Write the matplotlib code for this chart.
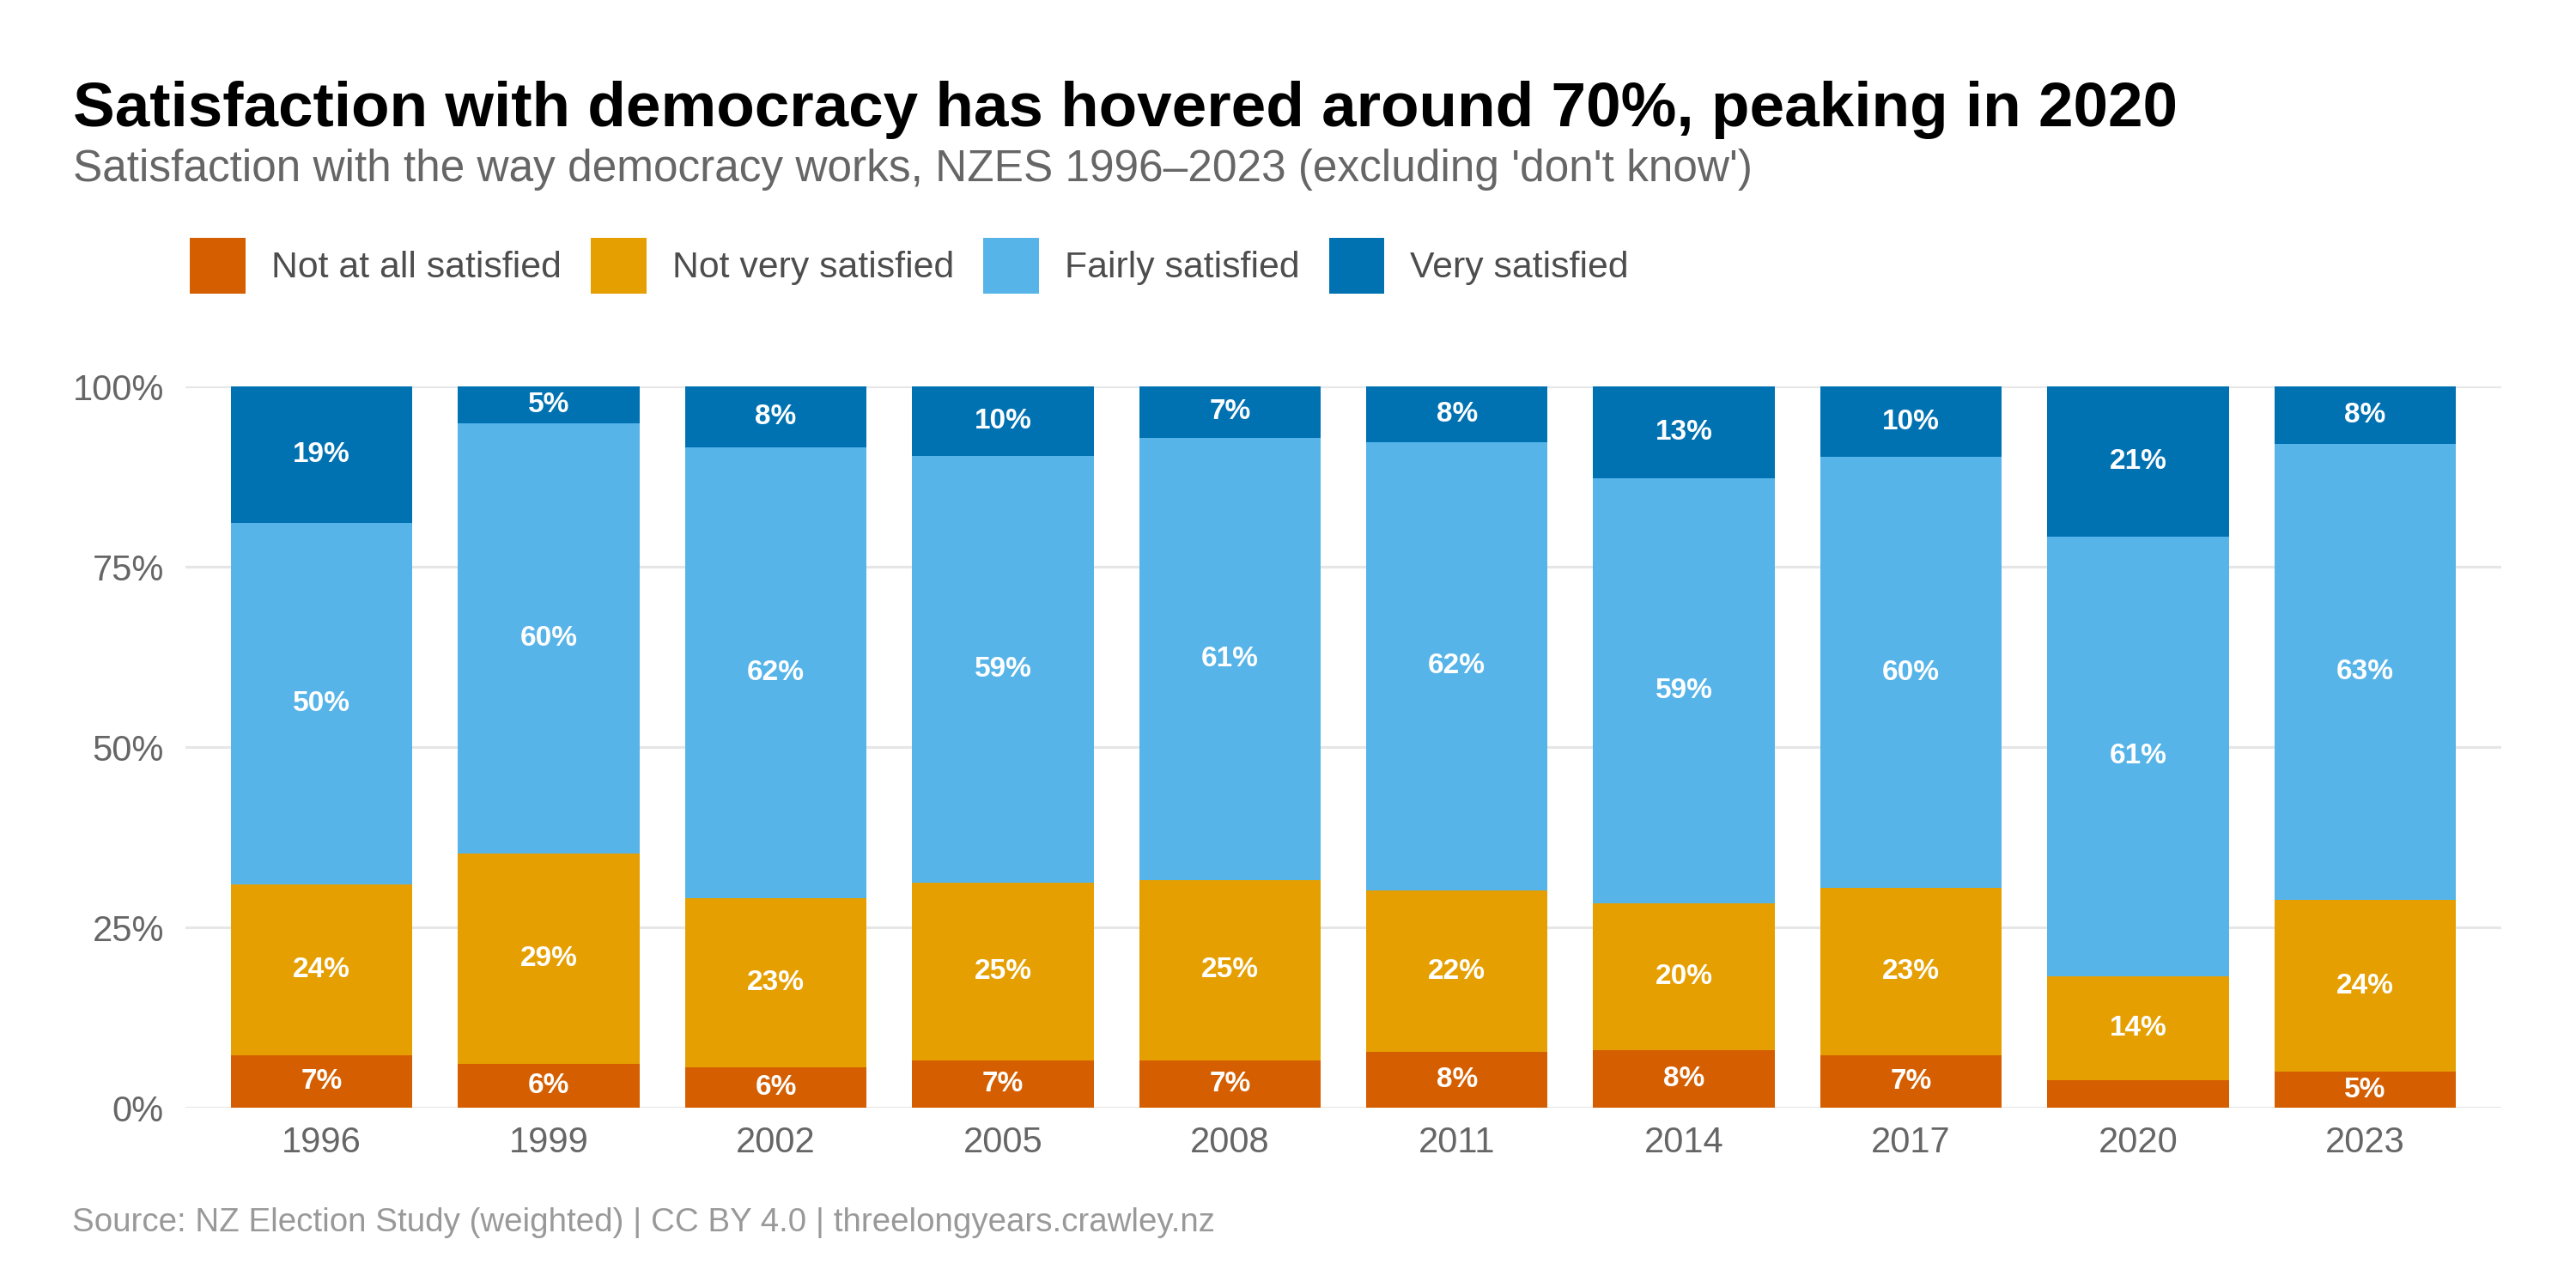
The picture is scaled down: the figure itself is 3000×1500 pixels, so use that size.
import matplotlib
matplotlib.use("Agg")
import matplotlib.pyplot as plt
from matplotlib.patches import Patch
import numpy as np

plt.rcParams['font.family'] = ['Liberation Sans', 'DejaVu Sans']

years = ['1996', '1999', '2002', '2005', '2008', '2011', '2014', '2017', '2020', '2023']
categories = ['Not at all satisfied', 'Not very satisfied', 'Fairly satisfied', 'Very satisfied']
colors = ['#D55E00', '#E69F00', '#56B4E9', '#0072B2']

# percent of respondents
not_at_all = [7.3, 6.1, 5.65, 6.6, 6.6, 7.7, 8.0, 7.3, 3.8, 5.0]
not_very = [23.7, 29.1, 23.45, 24.6, 24.9, 22.4, 20.3, 23.2, 14.4, 23.8]
fairly = [50.1, 59.7, 62.45, 59.2, 61.4, 62.2, 59.0, 59.7, 61.0, 63.2]
very = [18.9, 5.1, 8.45, 9.6, 7.1, 7.7, 12.7, 9.8, 20.8, 8.0]

series = [not_at_all, not_very, fairly, very]

fig = plt.figure(figsize=(20, 10), dpi=150)
ax = fig.add_axes([0.072, 0.14, 0.899, 0.56])

x = np.arange(len(years))
bottom = np.zeros(len(years))
for vals, col in zip(series, colors):
    v = np.array(vals) / 100
    ax.bar(x, v, bottom=bottom, width=0.8, color=col, zorder=2)
    for xi, b, h, raw in zip(x, bottom, v, vals):
        if raw >= 4.5:
            ax.text(xi, b + h / 2, f"{raw:.0f}%", ha='center', va='center',
                    color='white', fontsize=16, fontweight='bold', zorder=3)
    bottom += v

ax.set_xlim(-0.6, len(years) - 0.4)
ax.set_ylim(0, 1)
ax.set_xticks(x)
ax.set_xticklabels(years)
ax.set_yticks([0, 0.25, 0.5, 0.75, 1.0])
ax.set_yticklabels(['0%', '25%', '50%', '75%', '100%'])
ax.tick_params(axis='both', length=0, labelsize=20, labelcolor='#666666')
ax.tick_params(axis='y', pad=12)
ax.tick_params(axis='x', pad=10)
ax.grid(axis='y', color='#e6e6e6', linewidth=1.5, zorder=0)
ax.set_axisbelow(True)
for s in ax.spines.values():
    s.set_visible(False)

fig.text(0.0283, 0.902, "Satisfaction with democracy has hovered around 70%, peaking in 2020",
         fontsize=35, fontweight='bold', color='black', va='baseline', ha='left')
fig.text(0.0283, 0.8593, "Satisfaction with the way democracy works, NZES 1996\u20132023 (excluding 'don't know')",
         fontsize=24.7, color='#666666', va='baseline', ha='left')

handles = [Patch(facecolor=c, edgecolor='none') for c in colors]
leg = fig.legend(handles, categories, loc='center left', bbox_to_anchor=(0.0608, 0.7937),
                 ncol=4, frameon=False, fontsize=20.5, handlelength=1.52, handleheight=1.96,
                 handletextpad=0.7, columnspacing=0.8, labelcolor='#4d4d4d')

fig.text(0.028, 0.051, "Source: NZ Election Study (weighted) | CC BY 4.0 | threelongyears.crawley.nz",
         fontsize=18.5, color='#999999', va='center', ha='left')

fig.savefig('out.png', dpi=150, facecolor='white')
